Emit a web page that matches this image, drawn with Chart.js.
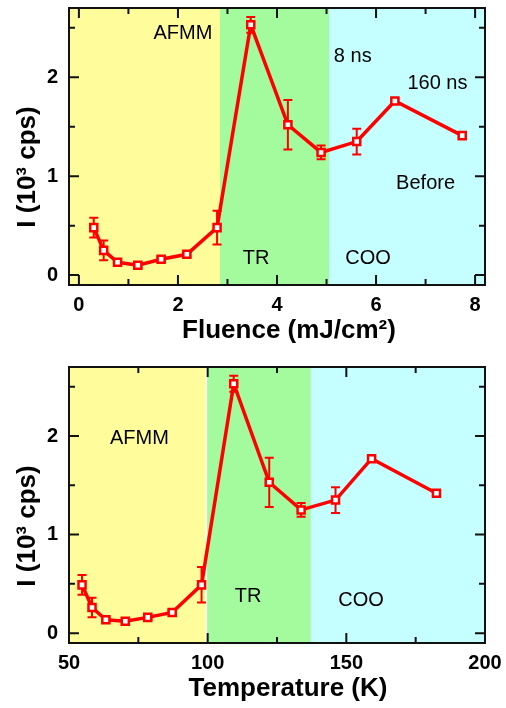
<!DOCTYPE html>
<html>
<head>
<meta charset="utf-8">
<script src="https://cdn.jsdelivr.net/npm/chart.js@4.4.0/dist/chart.umd.min.js"></script>
<style>
  body { margin: 0; background: #fff; }
  canvas { display: block; }
</style>
</head>
<body>
<canvas id="fluence" width="506" height="354"></canvas>
<canvas id="temp" width="506" height="354"></canvas>
<script>
// top panel: intensity vs fluence
const fluence = [0.30, 0.50, 0.78, 1.19, 1.66, 2.18, 2.79, 3.47, 4.22, 4.89, 5.61, 6.38, 7.74];
const intensityF = [0.48, 0.25, 0.13, 0.10, 0.16, 0.21, 0.48, 2.53, 1.52, 1.24, 1.35, 1.76, 1.41];
const errorF = [0.10, 0.10, 0.02, 0.03, 0.02, 0.02, 0.17, 0.08, 0.25, 0.07, 0.13, 0.02, 0.02];
const fluenceTicks = [0, 1, 2, 3, 4, 5, 6, 7, 8];
const fluenceBounds = [-0.2, 2.85, 5.05, 8.2];   // AFMM | TR | COO
const fluenceNotes = ['AFMM', '8 ns', '160 ns', 'Before', 'TR', 'COO'];
const fluenceNoteX = [2.10, 5.53, 7.24, 7.00, 3.58, 5.84];
const fluenceNoteY = [2.44, 2.21, 1.94, 0.925, 0.165, 0.165];

// bottom panel: intensity vs temperature
const temperature = [54.7, 58.3, 63.3, 70.3, 78.4, 87.2, 97.8, 109.4, 122.2, 133.7, 146.1, 159.1, 182.5];
const intensityT = [0.49, 0.26, 0.135, 0.12, 0.16, 0.21, 0.49, 2.53, 1.53, 1.25, 1.35, 1.77, 1.42];
const errorT = [0.10, 0.10, 0.02, 0.03, 0.02, 0.02, 0.18, 0.08, 0.25, 0.07, 0.13, 0.02, 0.02];
const tempTicks = [50, 75, 100, 125, 150, 175, 200];
const tempBounds = [[50, 99.3], [99.8, 137.2], [137.2, 200]];
const tempNotes = ['AFMM', 'TR', 'COO'];
const tempNoteX = [75.4, 114.6, 155.3];
const tempNoteY = [1.97, 0.375, 0.33];

const yTicks = [0, 0.5, 1, 1.5, 2, 2.5];

const regionColors = ['#fffd9b', '#a3fb9d', '#c6ffff'];
const FONT = '"Liberation Sans", Arial, sans-serif';

const panelPlugin = {
  id: 'panel',
  beforeDatasetsDraw(chart, args, o) {
    const ctx = chart.ctx, a = chart.chartArea;
    const x = chart.scales.x, y = chart.scales.y;
    ctx.save();
    o.regions.forEach(function(r, i) {
      const x0 = x.getPixelForValue(r[0]), x1 = x.getPixelForValue(r[1]);
      ctx.fillStyle = regionColors[i];
      ctx.fillRect(x0, a.top, x1 - x0, a.bottom - a.top);
    });
    ctx.fillStyle = '#000';
    ctx.font = '20px ' + FONT;
    ctx.textAlign = 'center';
    ctx.textBaseline = 'middle';
    o.notes.forEach(function(t, i) {
      ctx.fillText(t, x.getPixelForValue(o.noteX[i]), y.getPixelForValue(o.noteY[i]));
    });
    // error bars under the markers
    const pts = chart.data.datasets[0].data;
    ctx.strokeStyle = '#ff0000';
    ctx.lineWidth = 2;
    ctx.beginPath();
    pts.forEach(function(p, i) {
      const e = o.errors[i];
      const px = x.getPixelForValue(p.x);
      const top = y.getPixelForValue(p.y + e), bot = y.getPixelForValue(p.y - e);
      ctx.moveTo(px, top); ctx.lineTo(px, bot);
      ctx.moveTo(px - 4.5, top); ctx.lineTo(px + 4.5, top);
      ctx.moveTo(px - 4.5, bot); ctx.lineTo(px + 4.5, bot);
    });
    ctx.stroke();
    ctx.restore();
  },
  afterDatasetsDraw(chart, args, o) {
    const ctx = chart.ctx, a = chart.chartArea;
    const x = chart.scales.x, y = chart.scales.y;
    ctx.save();
    ctx.strokeStyle = '#111';
    ctx.lineWidth = 2;
    ctx.strokeRect(a.left, a.top, a.right - a.left, a.bottom - a.top);
    ctx.beginPath();
    o.xTicks.forEach(function(v) {
      const px = x.getPixelForValue(v);
      const len = o.xMajor(v) ? 10 : 6;
      ctx.moveTo(px, a.bottom); ctx.lineTo(px, a.bottom - len);
      ctx.moveTo(px, a.top); ctx.lineTo(px, a.top + len);
    });
    yTicks.forEach(function(v) {
      const py = y.getPixelForValue(v);
      const len = Number.isInteger(v) ? 10 : 6;
      ctx.moveTo(a.left, py); ctx.lineTo(a.left + len, py);
      ctx.moveTo(a.right, py); ctx.lineTo(a.right - len, py);
    });
    ctx.stroke();

    // axis titles
    ctx.fillStyle = '#000';
    ctx.font = 'bold 26px ' + FONT;
    ctx.textAlign = 'center';
    ctx.textBaseline = 'middle';
    ctx.fillText(o.xTitle, o.xTitlePos[0], o.xTitlePos[1]);
    ctx.translate(o.yTitlePos[0], o.yTitlePos[1]);
    ctx.rotate(-Math.PI / 2);
    ctx.fillText('I (10³ cps)', 0, 0);
    ctx.restore();
  }
};

function makePanel(id, xs, ys, opts) {
  const points = xs.map(function(v, i) { return {x: v, y: ys[i]}; });
  return new Chart(document.getElementById(id), {
    type: 'line',
    data: {
      datasets: [{
        data: points,
        borderColor: '#ff0000',
        borderWidth: 3.5,
        tension: 0,
        pointStyle: 'rect',
        pointRadius: 5,
        pointBackgroundColor: '#ffffff',
        pointBorderColor: '#ff0000',
        pointBorderWidth: 2.5
      }]
    },
    options: {
      responsive: false,
      animation: false,
      layout: { padding: { top: opts.top, right: 21, left: 0, bottom: 0 } },
      plugins: {
        legend: { display: false },
        tooltip: { enabled: false },
        panel: opts.panel
      },
      scales: {
        x: {
          type: 'linear',
          min: opts.xMin, max: opts.xMax,
          grid: { display: false, drawTicks: false },
          border: { display: false },
          afterBuildTicks: function(s) { s.ticks = opts.panel.xTicks.map(function(v) { return {value: v}; }); },
          afterFit: function(s) { s.height = opts.xHeight; s.paddingLeft = 0; s.paddingRight = 0; },
          ticks: {
            autoSkip: false, maxRotation: 0, padding: 8, color: '#000',
            font: { family: FONT, size: 20, weight: 'bold' },
            callback: function(v) { return opts.panel.xMajor(v) ? v : ''; }
          }
        },
        y: {
          min: -0.1, max: 2.7,
          grid: { display: false, drawTicks: false },
          border: { display: false },
          afterBuildTicks: function(s) { s.ticks = yTicks.map(function(v) { return {value: v}; }); },
          afterFit: function(s) { s.width = 69; s.paddingTop = 0; s.paddingBottom = 0; },
          ticks: {
            autoSkip: false, padding: 11, color: '#000',
            font: { family: FONT, size: 20, weight: 'bold' },
            callback: function(v) { return Number.isInteger(v) ? v : ''; }
          }
        }
      }
    },
    plugins: [panelPlugin]
  });
}

makePanel('fluence', fluence, intensityF, {
  top: 8, xHeight: 69, xMin: -0.2, xMax: 8.2,
  panel: {
    regions: [[fluenceBounds[0], fluenceBounds[1]], [fluenceBounds[1], fluenceBounds[2]], [fluenceBounds[2], fluenceBounds[3]]],
    notes: fluenceNotes, noteX: fluenceNoteX, noteY: fluenceNoteY,
    errors: errorF,
    xTicks: fluenceTicks,
    xMajor: function(v) { return v % 2 === 0; },
    xTitle: 'Fluence (mJ/cm²)', xTitlePos: [289, 331], yTitlePos: [28, 167]
  }
});

makePanel('temp', temperature, intensityT, {
  top: 13, xHeight: 65, xMin: 50, xMax: 200,
  panel: {
    regions: tempBounds,
    notes: tempNotes, noteX: tempNoteX, noteY: tempNoteY,
    errors: errorT,
    xTicks: tempTicks,
    xMajor: function(v) { return v % 50 === 0; },
    xTitle: 'Temperature (K)', xTitlePos: [288, 335], yTitlePos: [28, 172]
  }
});
</script>
</body>
</html>
